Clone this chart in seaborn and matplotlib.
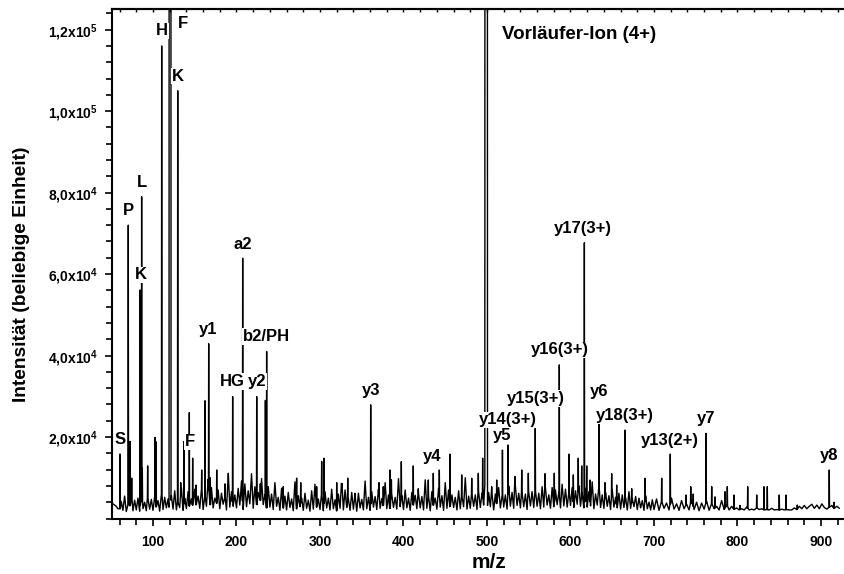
import numpy as np
import matplotlib
matplotlib.use("Agg")
import matplotlib.pyplot as plt
import seaborn as sns
from matplotlib.ticker import MultipleLocator, FixedLocator, FuncFormatter

# ---------------- data ----------------
# distinct peaks: m/z and intensity
peak_mz = [60.5, 70.4, 72.5, 74.5, 84.6, 85.4, 86.4, 87.2, 93.6, 102.4, 103.8,
           110.4, 129.6, 133.2, 137.1, 143.5, 147.5, 151.5, 158.3, 162.3, 166.7,
           168.5, 176.3, 186.2, 190.2, 195.4, 207.4, 224.2, 228.5, 234.6, 236.1,
           238.0, 256.0, 272.0, 276.9, 296.0, 302.0, 304.8, 320.0, 326.0, 333.2,
           341.9, 360.7, 370.7, 375.8, 383.8, 385.5, 397.4, 411.7, 417.7, 429.7,
           435.7, 442.9, 455.7, 469.7, 481.7, 489.6, 494.8, 505.6, 511.6, 518.5,
           525.3, 533.5, 541.6, 549.5, 557.8, 569.5, 580.6, 586.6, 598.2, 603.4,
           609.3, 613.4, 616.6, 619.4, 623.4, 634.1, 641.3, 649.3, 655.3, 665.3,
           673.3, 689.2, 709.2, 719.5, 738.3, 744.0, 747.0, 762.3, 769.1, 773.0,
           785.0, 787.8, 795.8, 803.0, 812.2, 823.0, 831.7, 835.7, 850.0, 858.0,
           871.6, 909.9, 915.6]
peak_int = [15840, 72000, 18900, 9900, 56100, 55000, 79000, 12300, 12900, 19900, 18800,
            116000, 105000, 8800, 18900, 26000, 14800, 8200, 11900, 28900, 42900,
            10000, 11900, 8500, 11100, 29900, 63900, 29900, 8500, 29000, 41000,
            7800, 7800, 9900, 8800, 7800, 14000, 14800, 8800, 7800, 9900,
            6200, 27900, 8800, 7800, 11900, 9500, 13950, 12900, 7300, 9450,
            11100, 11900, 15800, 10700, 9870, 11100, 14800, 7800, 9450, 16800,
            18050, 10300, 11900, 11100, 22150, 11000, 11100, 37700, 15800, 10700,
            14800, 12900, 67700, 12900, 9450, 23400, 8800, 11000, 8200, 21700,
            7300, 9870, 9870, 15800, 5770, 7800, 6000, 20900, 7800, 5300,
            6580, 7800, 5770, 3200, 7800, 5770, 7800, 7800, 5770, 5770,
            3300, 11900, 4000]

# off-scale broad peaks (F immonium ion and precursor ion), start / end m/z
wide_lo = [119.4, 497.6]
wide_hi = [121.4, 500.4]
wide_top = 300000

# noise floor ("grass"), intensity in units of 100 counts
grass_a = [36, 33, 30, 24,
           18, 42, 20, 55, 17, 38, 22, 60, 19, 45,
           21, 50, 18, 65, 24, 40, 19, 58, 23, 47,
           20, 62, 25, 44, 18, 70, 22, 52, 26, 48,
           19, 56, 23, 68, 21, 45, 27, 75, 20, 50,
           24, 66, 19, 48, 28, 72, 21, 55, 25, 80,
           22, 58, 30, 96, 20, 76, 26, 50, 32, 70,
           24, 62, 35, 55, 21, 102, 28, 66, 30, 58,
           26, 74, 33, 92, 22, 85, 29, 68, 36, 110,
           25, 78, 31, 64, 27, 98, 34, 58, 24, 72,
           28, 60, 22, 88, 30, 52, 20, 74, 26, 55,
           21, 64, 27, 48, 19, 90, 24, 56, 29, 50,
           20, 62, 25, 45, 18, 68, 23, 84, 28, 48,
           22, 58, 19, 66, 26, 50, 21, 72, 24, 46,
           19, 60, 25, 86, 21, 70, 27, 48, 20, 64,
           23, 55, 18, 62, 26, 47, 21, 92, 24, 52,
           20, 66, 28, 54, 22, 72, 25, 49, 30, 88,
           24, 58, 21, 75, 27, 52, 23, 98, 29, 56,
           22, 70, 26, 50, 20, 64, 28, 57, 24, 68,
           26, 54, 21, 95, 25, 60, 19, 66, 27, 50,
           23, 74, 28, 56, 20, 88, 25, 70, 22, 58,
           27, 52, 21, 68, 24, 60, 29, 100, 23, 55,
           25, 66, 30, 58, 22, 78, 27, 62, 33, 96,
           24, 64, 29, 72, 21, 60, 31, 76, 26, 68,
           28, 58, 23, 80, 30, 64, 25, 104, 32, 62,
           26, 74, 29, 60, 22, 82, 31, 66, 27, 72,
           30, 62, 24, 78, 28, 96, 33, 58, 25, 76,
           29, 70, 34, 64, 26, 84, 31, 72, 28, 66,
           32, 76, 27, 68, 35, 80, 30, 62, 26, 74,
           28, 66, 31, 90, 24, 60, 33, 78, 27, 58,
           25, 64, 30, 56, 22, 70, 28, 52, 26, 62,
           23, 58, 27, 50, 21, 66, 25, 48, 29, 54,
           22, 50, 26, 44, 20, 56, 24, 40, 21, 46]
grass_b = [22, 48, 20, 42, 25, 38, 21, 50, 23, 36,
           20, 44, 24, 35, 21, 46, 22, 40, 19, 38,
           23, 42, 20, 36, 24, 30, 21, 44, 22, 34,
           21, 30, 22, 26, 21, 24, 21, 28, 21, 23,
           21, 26, 22, 24, 21, 22, 21, 25, 21, 22,
           21, 23, 21, 22, 21, 21, 26, 22, 30, 24,
           32, 24, 30, 35, 25, 33, 24, 36, 27, 23,
           28, 32, 24, 30, 25]
grass_mz_a = np.arange(52, 700, 2)
grass_mz_b = np.arange(700, 925, 3)

# annotations
label_text = ["H", "F", "K", "P", "L", "K", "a2", "y1", "b2/PH", "HG", "y2", "F", "S",
              "y3", "y4", "y17(3+)", "y16(3+)", "y15(3+)", "y14(3+)", "y5", "y6",
              "y18(3+)", "y13(2+)", "y7", "y8"]
label_mz = [110.4, 136.0, 130.3, 70.4, 86.5, 85.3, 207.4, 166.2, 235.9, 195.2, 224.2,
            144.3, 60.5, 360.7, 433.8, 615.0, 586.8, 558.5, 525.5, 518.6, 633.9,
            665.0, 719.4, 762.5, 910.2]
label_int = [119700, 121600, 108600, 75700, 82400, 59800, 67300, 46450, 44600, 33600,
             33600, 18800, 19400, 31300, 15200, 71100, 41400, 29500, 24200, 20300,
             31100, 25200, 19100, 24600, 15400]
precursor_text = "Vorläufer-Ion (4+)"
precursor_pos = (518, 118700)

# ---------------- build profile ----------------
gx = np.concatenate([grass_mz_a, grass_mz_b]).astype(float)
gy = np.concatenate([grass_a, grass_b]).astype(float) * 100
keep = np.ones(len(gx), bool)
for m in peak_mz:
    keep &= np.abs(gx - m) > 0.5
for lo, hi in zip(wide_lo, wide_hi):
    keep &= ~((gx > lo - 0.6) & (gx < hi + 0.6))
xs = list(gx[keep])
ys = list(gy[keep])
for m, v in zip(peak_mz, peak_int):
    b = float(np.interp(m, gx, gy))
    xs += [m - 0.3, m, m + 0.3]
    ys += [b, v, b]
for lo, hi in zip(wide_lo, wide_hi):
    b1 = float(np.interp(lo, gx, gy))
    b2 = float(np.interp(hi, gx, gy))
    xs += [lo - 0.2, lo, hi, hi + 0.2]
    ys += [b1, wide_top, wide_top, b2]
order = np.argsort(xs, kind="stable")
xs = np.array(xs)[order]
ys = np.array(ys)[order]

# ---------------- plot ----------------
sns.set_style("ticks")
plt.rcParams["font.family"] = ["Liberation Sans", "DejaVu Sans"]
plt.rcParams["font.weight"] = "bold"
plt.rcParams["text.color"] = "black"
plt.rcParams["axes.labelcolor"] = "black"
plt.rcParams["xtick.color"] = "black"
plt.rcParams["ytick.color"] = "black"
plt.rcParams["mathtext.fontset"] = "custom"
plt.rcParams["mathtext.rm"] = "Liberation Sans:bold"
plt.rcParams["mathtext.it"] = "Liberation Sans:bold"
plt.rcParams["mathtext.bf"] = "Liberation Sans:bold"
plt.rcParams["mathtext.default"] = "rm"

fig = plt.figure(figsize=(8.45, 5.74), dpi=100)
ax = fig.add_axes([112 / 845, 1 - 518.5 / 574, 732 / 845, (518.5 - 9.3) / 574])

sns.lineplot(x=xs, y=ys, sort=False, estimator=None, color="black", lw=1.0, ax=ax)

ax.set_xlim(50.9, 50.9 + 732 / 0.835)
ax.set_ylim(0, 125000)

for s in ["left", "bottom", "top"]:
    ax.spines[s].set_linewidth(1.5)
    ax.spines[s].set_color("black")
ax.spines["right"].set_visible(False)

ax.xaxis.set_major_locator(FixedLocator([100, 200, 300, 400, 500, 600, 700, 800, 900]))
ax.xaxis.set_minor_locator(MultipleLocator(20))
ax.yaxis.set_major_locator(FixedLocator([20000, 40000, 60000, 80000, 100000, 120000]))
ax.yaxis.set_minor_locator(MultipleLocator(4000))


def yfmt(v, pos):
    if v >= 1e5:
        return ("%.1f" % (v / 1e5)).replace(".", ",") + "x10$^{5}$"
    return ("%.1f" % (v / 1e4)).replace(".", ",") + "x10$^{4}$"


ax.yaxis.set_major_formatter(FuncFormatter(yfmt))
ax.tick_params(axis="both", which="major", direction="out", length=5, width=1.2,
               labelsize=10, color="black", labelcolor="black")
ax.tick_params(axis="both", which="minor", direction="out", length=4, width=1.2,
               color="black")
ax.tick_params(axis="y", which="major", pad=5)
ax.tick_params(axis="x", which="major", pad=7)
ax.tick_params(top=False, right=False)
for t in ax.get_xticklabels() + ax.get_yticklabels():
    t.set_fontweight("bold")

sec = ax.secondary_xaxis("top")
sec.xaxis.set_major_locator(MultipleLocator(20))
sec.tick_params(direction="in", length=2.5, width=1.0, labeltop=False, color="black")
sec.spines["top"].set_linewidth(1.5)
sec.spines["top"].set_color("black")

box = dict(facecolor="white", edgecolor="none", pad=0.6)
for t, m, v in zip(label_text, label_mz, label_int):
    ax.text(m, v, t, ha="center", va="center", fontsize=12, fontweight="bold",
            color="black", bbox=box, zorder=5)
ax.text(precursor_pos[0], precursor_pos[1], precursor_text, ha="left", va="center",
        fontsize=13.5, fontweight="bold", color="black", zorder=5)

fig.text(22 / 845, 1 - 274 / 574, "Intensität (beliebige Einheit)", rotation=90,
         ha="center", va="center", fontsize=13.8, fontweight="bold", color="black")
fig.text(489 / 845, 1 - 563 / 574, "m/z", ha="center", va="center", fontsize=15,
         fontweight="bold", color="black")

fig.savefig("out.png", dpi=100)
